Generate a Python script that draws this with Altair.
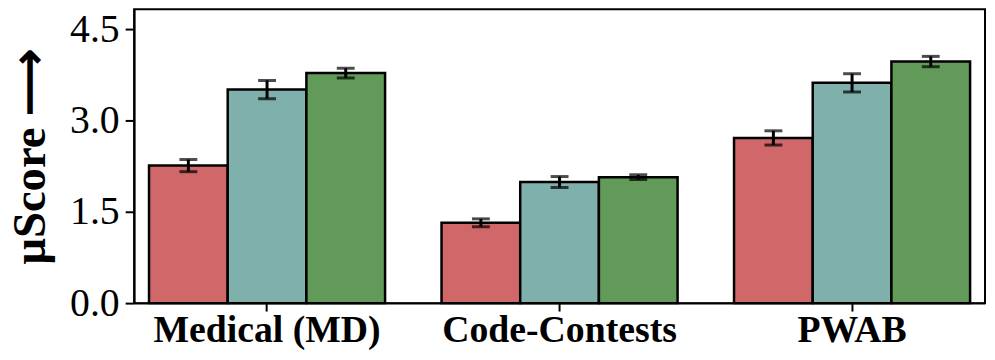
import altair as alt
import pandas as pd

groups = ["Medical (MD)", "Code-Contests", "PWAB"]
series = ["Method A", "Method B", "Method C"]
colors = ["#D0686A", "#7FB0AC", "#619A59"]

means_a = [2.26, 1.32, 2.715]
means_b = [3.51, 1.99, 3.62]
means_c = [3.78, 2.07, 3.97]
errs_a = [0.10, 0.065, 0.117]
errs_b = [0.15, 0.09, 0.15]
errs_c = [0.08, 0.04, 0.085]

y_ticks = [0.0, 1.5, 3.0, 4.5]

rows = []
for s, ms, es in zip(series, [means_a, means_b, means_c], [errs_a, errs_b, errs_c]):
    for g, m, e in zip(groups, ms, es):
        rows.append({"group": g, "series": s, "mean": m, "err": e})
df = pd.DataFrame(rows)

FONT = "Liberation Serif"

x_enc = alt.X("group:N", sort=groups,
              scale=alt.Scale(paddingInner=0.193, paddingOuter=0.051),
              axis=alt.Axis(title=None, labelAngle=0, labelFont=FONT, labelFontSize=38,
                            labelFontWeight="bold", labelColor="black",
                            labelBaseline="alphabetic", labelPadding=31,
                            labelLimit=500,
                            tickSize=8, tickWidth=2, tickColor="black",
                            domainColor="black", domainWidth=2))
xo_enc = alt.XOffset("series:N", sort=series,
                     scale=alt.Scale(paddingInner=0, paddingOuter=0))
color_enc = alt.Color("series:N", sort=series,
                      scale=alt.Scale(domain=series, range=colors), legend=None)
y_scale = alt.Scale(domain=[0, 4.83], nice=False, zero=True)

bars = alt.Chart(df).mark_bar(stroke="black", strokeWidth=2.5).encode(
    x=x_enc, xOffset=xo_enc, color=color_enc,
    y=alt.Y("mean:Q", scale=y_scale,
            axis=alt.Axis(values=y_ticks, format=".1f", title="μScore ⟶",
                          titleFont=FONT, titleFontSize=47, titleFontWeight="bold",
                          titleColor="black", titlePadding=15,
                          labelFont=FONT, labelFontSize=40, labelColor="black",
                          labelPadding=6, tickSize=9, tickWidth=2, tickColor="black",
                          domainColor="black", domainWidth=2, grid=False)),
)

base = alt.Chart(df).transform_calculate(
    lo="datum.mean - datum.err", hi="datum.mean + datum.err"
)

rule = base.mark_rule(color="black", strokeWidth=3).encode(
    x=alt.X("group:N", sort=groups), xOffset=xo_enc,
    y=alt.Y("lo:Q", scale=y_scale), y2="hi:Q",
)
cap_lo = base.mark_tick(color="black", size=18, thickness=3).encode(
    x=alt.X("group:N", sort=groups), xOffset=xo_enc,
    y=alt.Y("lo:Q", scale=y_scale),
)
cap_hi = base.mark_tick(color="black", size=18, thickness=3).encode(
    x=alt.X("group:N", sort=groups), xOffset=xo_enc,
    y=alt.Y("hi:Q", scale=y_scale),
)

chart = alt.layer(bars, rule, cap_lo, cap_hi).properties(
    width=857, height=296,
    autosize=alt.AutoSizeParams(type="none"),
    padding={"left": 127, "top": 0, "right": 2, "bottom": 48},
).configure(
    background="white",
    view=alt.ViewConfig(stroke="black", strokeWidth=2),
)

chart.save("out.html", embed_options={"renderer": "svg", "actions": False})
